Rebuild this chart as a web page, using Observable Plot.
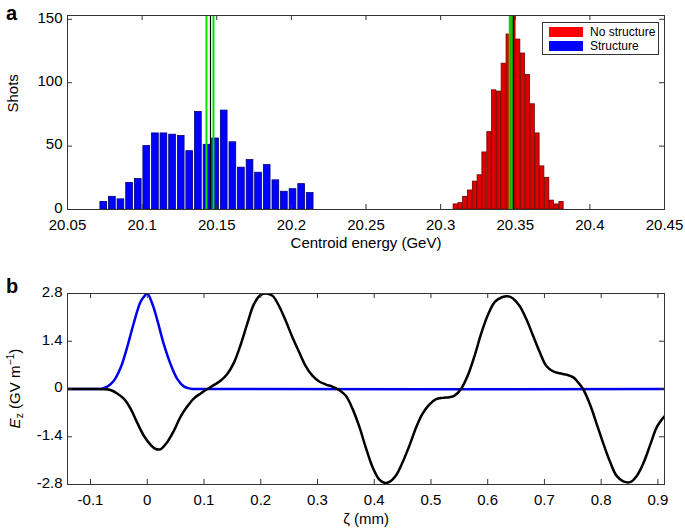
<!DOCTYPE html>
<html><head><meta charset="utf-8">
<script src="https://cdn.jsdelivr.net/npm/d3@7"></script>
<script src="https://cdn.jsdelivr.net/npm/@observablehq/plot@0.6"></script>
<style>
body{margin:0;background:#fff;font-family:"Liberation Sans",Arial,sans-serif;}
#wrap{position:relative;width:685px;height:530px;overflow:hidden;}
.panel{position:absolute;left:0;}
.tag{position:absolute;font-weight:bold;font-size:20px;line-height:1;color:#000;}
.legend{position:absolute;left:542px;top:22px;width:115px;height:31px;border:1px solid #333;background:#fff;font-size:12px;}
.sw{position:absolute;left:6px;width:34px;height:10px;}
.lt{position:absolute;left:47px;line-height:12px;color:#000;white-space:nowrap;}
</style></head><body><div id="wrap"></div>
<script>
// ---------- Panel a data ----------
const blueCenters = [20.0743,20.0801,20.0858,20.0916,20.0974,20.1031,20.1089,20.1146,20.1204,20.1262,20.1319,20.1377,20.1435,20.1492,20.1550,20.1608,20.1665,20.1723,20.1780,20.1838,20.1896,20.1953,20.2011,20.2069,20.2126];
const blueCounts  = [6,10,8,21,24,50,60,60,59,58,46,77,51,56,78,53,33,39,29,35,23,14,16,20,13];
const blueBinWidth = 0.005764;
const redCenters = [20.3101,20.3133,20.3165,20.3198,20.3230,20.3262,20.3294,20.3327,20.3359,20.3391,20.3423,20.3456,20.3488,20.3520,20.3552,20.3585,20.3617,20.3649,20.3681,20.3714,20.3746,20.3778,20.3810];
const redCounts  = [4,5,10,15,22,27,45,61,94,93,115,138,153,134,123,106,83,60,34,25,7,4,6];
const redBinWidth = 0.003224;
const greenLines = [20.1431,20.1478,20.3463,20.3479];
const blackLines = [20.1458,20.3487];
const energyTicks = [20.05,20.1,20.15,20.2,20.25,20.3,20.35,20.4,20.45];
const energyTickLabels = ["20.05","20.1","20.15","20.2","20.25","20.3","20.35","20.4","20.45"];
const shotTicks = [0,50,100,150];
const shotTickLabels = ["0","50","100","150"];

// ---------- Panel b data ----------
const zetaBlue = [-0.1406,-0.09,-0.080,-0.071,-0.059,-0.047,-0.035,-0.024,-0.012,-0.006,0,0.009,0.018,0.029,0.041,0.053,0.065,0.076,0.088,0.9116];
const ezBlue   = [0,0,0.01,0.06,0.24,0.62,1.25,1.92,2.55,2.70,2.80,2.49,2.0,1.32,0.73,0.29,0.07,0.01,0,0];
const zetaBlack = [-0.1406,-0.09,-0.076,-0.065,-0.053,-0.041,-0.029,-0.018,-0.006,0.006,0.015,0.024,0.035,0.047,0.059,0.071,0.082,0.094,0.106,0.118,0.129,0.141,0.153,0.165,0.176,0.188,0.2,0.21,0.221,0.232,0.244,0.256,0.268,0.279,0.291,0.303,0.315,0.326,0.338,0.35,0.362,0.374,0.385,0.397,0.409,0.418,0.426,0.438,0.45,0.462,0.474,0.485,0.497,0.509,0.521,0.532,0.541,0.553,0.565,0.577,0.589,0.601,0.613,0.625,0.635,0.644,0.656,0.668,0.68,0.692,0.703,0.715,0.727,0.739,0.751,0.759,0.768,0.78,0.792,0.804,0.816,0.827,0.839,0.851,0.863,0.875,0.887,0.898,0.91,0.9116];
const ezBlack   = [0,0,-0.005,-0.03,-0.13,-0.29,-0.59,-0.98,-1.37,-1.64,-1.76,-1.76,-1.56,-1.22,-0.80,-0.50,-0.28,-0.13,0,0.12,0.24,0.44,0.78,1.32,1.90,2.49,2.76,2.80,2.73,2.44,2.0,1.51,1.07,0.68,0.39,0.22,0.13,0.07,-0.03,-0.20,-0.59,-1.12,-1.71,-2.29,-2.66,-2.75,-2.73,-2.54,-2.15,-1.66,-1.12,-0.73,-0.46,-0.30,-0.26,-0.24,-0.20,0,0.40,0.98,1.65,2.2,2.56,2.69,2.72,2.66,2.44,2.05,1.56,1.07,0.68,0.52,0.46,0.42,0.34,0.20,0,-0.44,-1.02,-1.61,-2.15,-2.54,-2.71,-2.73,-2.54,-2.15,-1.61,-1.12,-0.83,-0.80];
const zetaTicks = [-0.1,0,0.1,0.2,0.3,0.4,0.5,0.6,0.7,0.8,0.9];
const zetaTickLabels = ["-0.1","0","0.1","0.2","0.3","0.4","0.5","0.6","0.7","0.8","0.9"];
const ezTicks = [-2.8,-1.4,0,1.4,2.8];
const ezTickLabels = ["-2.8","-1.4","0","1.4","2.8"];

const legendItems = ["No structure","Structure"];
const legendColors = ["#ff0000","#0000ff"];

const FONT = "'Liberation Sans', Arial, Helvetica, sans-serif";
const lab = (ticks, labels) => { const m = new Map(ticks.map((t,i)=>[t,labels[i]])); return d => m.get(d); };

const blueBars = blueCenters.map((c,i)=>({c, n: blueCounts[i]}));
const redBars = redCenters.map((c,i)=>({c, n: redCounts[i]}));

const wrap = document.getElementById("wrap");

const H1 = 262, mT1 = 15, mB1 = 53;
const fh1 = H1 - mT1 - mB1;
const plotA = Plot.plot({
  width: 685, height: H1,
  marginTop: mT1, marginBottom: mB1, marginLeft: 67, marginRight: 21,
  style: {fontFamily: FONT, fontSize: "15px", color: "#000", background: "transparent", overflow: "visible"},
  x: {domain: [20.05, 20.45], label: null},
  y: {domain: [0, 153], label: null},
  marks: [
    Plot.rect(blueBars, {x1: d=>d.c - blueBinWidth*0.39, x2: d=>d.c + blueBinWidth*0.39, y1: 0, y2: "n", fill: "#0000ff", stroke: "#00007a", strokeWidth: 0.8}),
    Plot.rect(redBars, {x1: d=>d.c - redBinWidth*0.44, x2: d=>d.c + redBinWidth*0.44, y1: 0, y2: "n", fill: "#e00000", stroke: "#700000", strokeWidth: 0.8, clip: true}),
    Plot.ruleX(greenLines, {x: d=>d, stroke: "#00e000", strokeWidth: 2}),
    Plot.ruleX(blackLines, {x: d=>d, stroke: "#000", strokeWidth: 1.2}),
    Plot.tickX(energyTicks, {x: d=>d, insetTop: fh1-5, stroke: "#333"}),
    Plot.tickX(energyTicks, {x: d=>d, insetBottom: fh1-5, stroke: "#333"}),
    Plot.tickY(shotTicks, {y: d=>d, insetRight: 592, stroke: "#333"}),
    Plot.tickY(shotTicks, {y: d=>d, insetLeft: 592, stroke: "#333"}),
    Plot.frame({stroke: "#333"}),
    Plot.axisX({ticks: energyTicks, tickFormat: lab(energyTicks, energyTickLabels), tickSize: 0, tickPadding: 10, label: null}),
    Plot.axisY({ticks: shotTicks, tickFormat: lab(shotTicks, shotTickLabels), tickSize: 0, tickPadding: 5, dy: -1.5, label: null}),
    Plot.text(["Centroid energy (GeV)"], {frameAnchor: "bottom", text: d=>d, dy: 28, lineAnchor: "top", fontSize: 15}),
    Plot.text(["Shots"], {frameAnchor: "left", text: d=>d, rotate: -90, dx: -54, fontSize: 15})
  ]
});
plotA.classList.add("panel");
plotA.style.top = "0px";
wrap.appendChild(plotA);

const H2 = 268, mT2 = 31, mB2 = 46;
const fh2 = H2 - mT2 - mB2;
const blueLine = zetaBlue.map((z,i)=>({z, e: ezBlue[i]}));
const blackLine = zetaBlack.map((z,i)=>({z, e: ezBlack[i]}));
const plotB = Plot.plot({
  width: 685, height: H2,
  marginTop: mT2, marginBottom: mB2, marginLeft: 67, marginRight: 21,
  style: {fontFamily: FONT, fontSize: "15px", color: "#000", background: "transparent", overflow: "visible"},
  x: {domain: [-0.1406, 0.9116], label: null},
  y: {domain: [-2.8, 2.8], label: null},
  marks: [
    Plot.line(blueLine, {x: "z", y: "e", stroke: "#0000f0", strokeWidth: 2.5, curve: "catmull-rom", clip: true}),
    Plot.line(blackLine, {x: "z", y: "e", stroke: "#000", strokeWidth: 2.5, curve: "catmull-rom", clip: true}),
    Plot.tickX(zetaTicks, {x: d=>d, insetTop: fh2-5, stroke: "#333"}),
    Plot.tickX(zetaTicks, {x: d=>d, insetBottom: fh2-5, stroke: "#333"}),
    Plot.tickY(ezTicks, {y: d=>d, insetRight: 592, stroke: "#333"}),
    Plot.tickY(ezTicks, {y: d=>d, insetLeft: 592, stroke: "#333"}),
    Plot.frame({stroke: "#333"}),
    Plot.axisX({ticks: zetaTicks, tickFormat: lab(zetaTicks, zetaTickLabels), tickSize: 0, tickPadding: 10, label: null}),
    Plot.axisY({ticks: ezTicks, tickFormat: lab(ezTicks, ezTickLabels), tickSize: 0, tickPadding: 5, dy: -1.5, label: null}),
    Plot.text(["ζ (mm)"], {frameAnchor: "bottom", text: d=>d, dy: 29, lineAnchor: "top", fontSize: 15})
  ]
});
plotB.classList.add("panel");
plotB.style.top = "262px";
wrap.appendChild(plotB);

// y label with subscript / superscript
const yl = d3.select(plotB).append("text")
  .attr("transform", `translate(20,${mT2 + fh2/2}) rotate(-90)`)
  .attr("text-anchor", "middle")
  .attr("font-size", 15)
  .attr("font-family", FONT)
  .attr("fill", "#000");
yl.append("tspan").attr("font-style", "italic").text("E");
yl.append("tspan").attr("font-size", 10.5).attr("dy", 3).text("z");
yl.append("tspan").attr("dy", -3).text(" (GV m");
yl.append("tspan").attr("font-size", 10.5).attr("dy", -6).text("−1");
yl.append("tspan").attr("dy", 6).text(")");

// panel tags
for (const [t, top] of [["a", 3], ["b", 276]]) {
  const d = document.createElement("div");
  d.className = "tag"; d.textContent = t;
  d.style.left = "6px"; d.style.top = top + "px";
  wrap.appendChild(d);
}

// legend
const lg = document.createElement("div");
lg.className = "legend";
legendItems.forEach((name, i) => {
  const sw = document.createElement("div");
  sw.className = "sw"; sw.style.top = (4 + i*14) + "px"; sw.style.background = legendColors[i];
  lg.appendChild(sw);
  const t = document.createElement("div");
  t.className = "lt"; t.style.top = (3 + i*14) + "px"; t.textContent = name;
  lg.appendChild(t);
});
wrap.appendChild(lg);
</script></body></html>
